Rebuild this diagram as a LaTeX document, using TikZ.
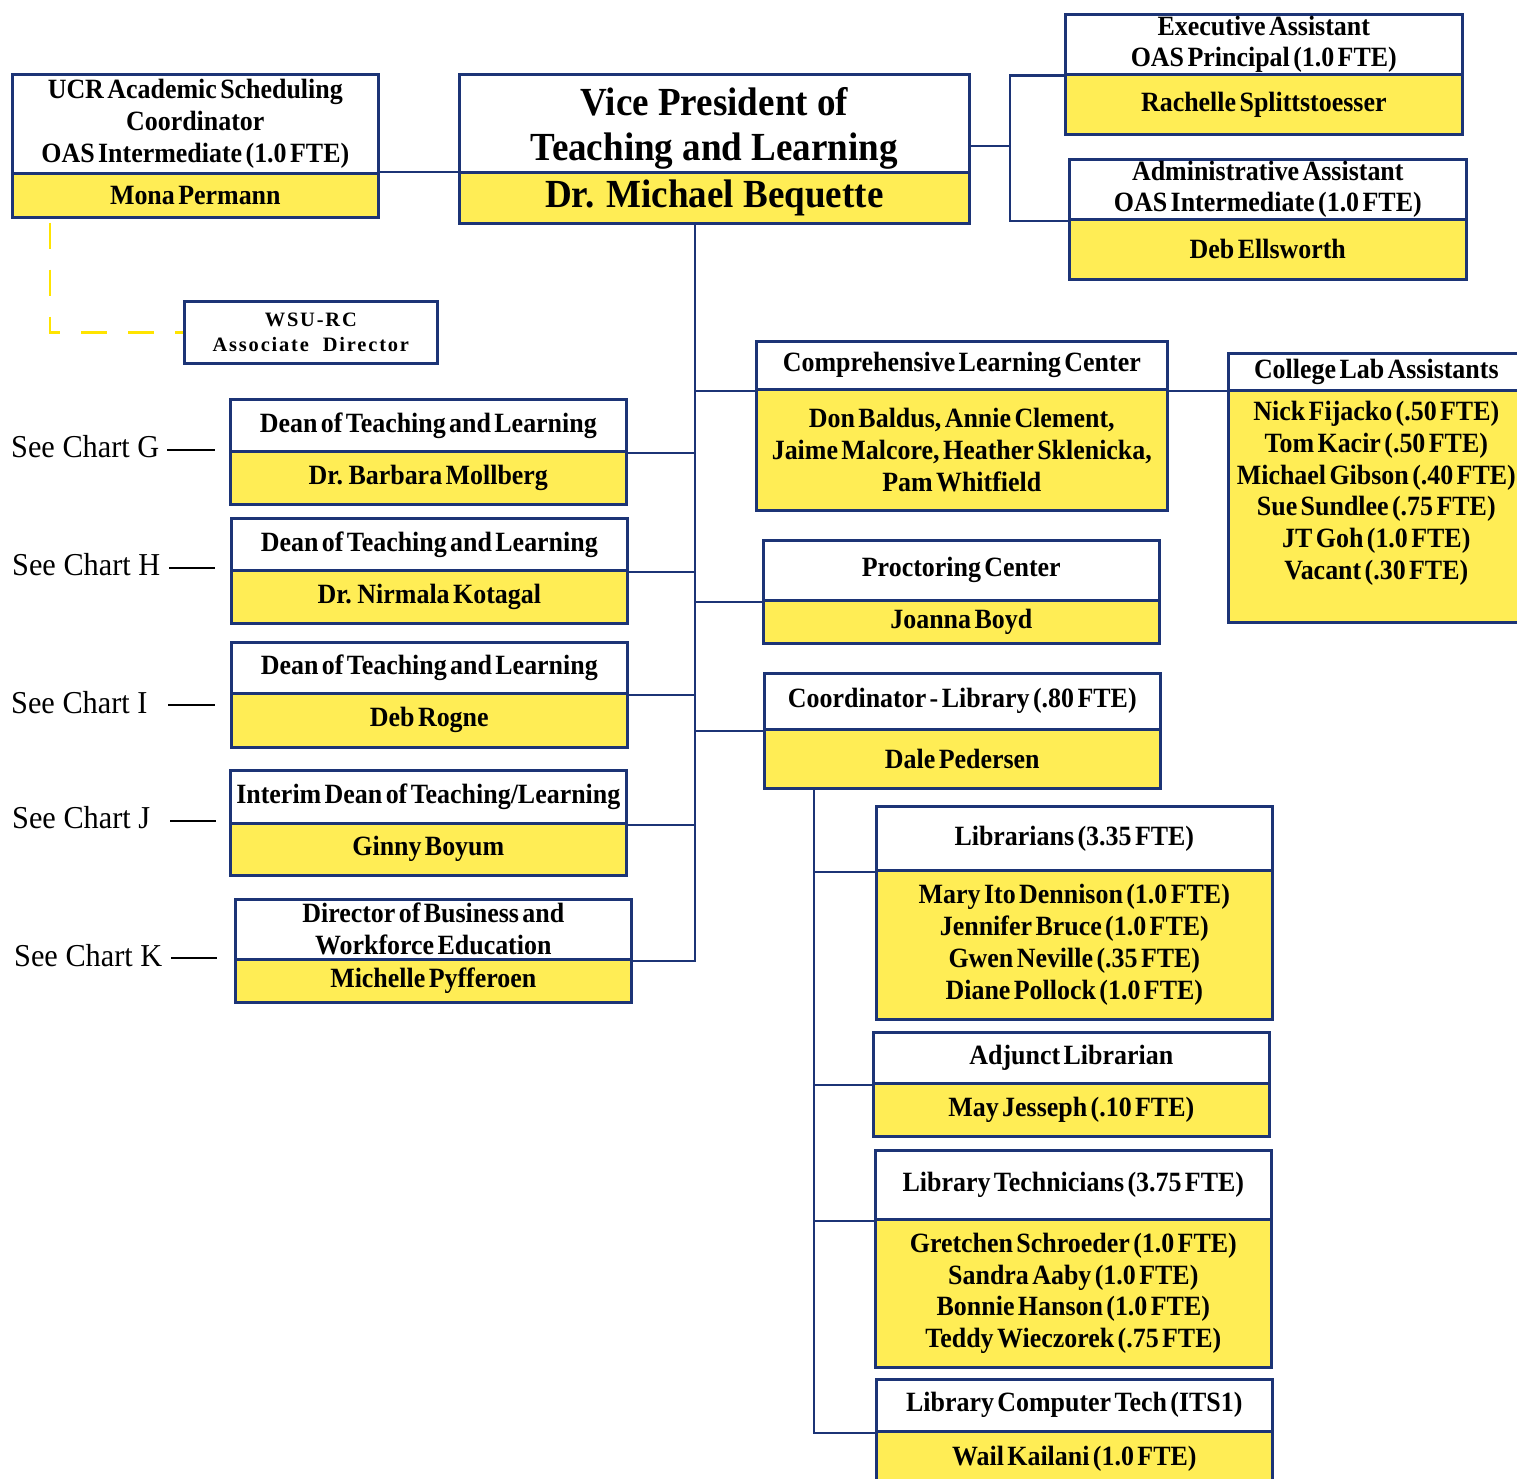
\documentclass[tikz,border=0pt]{standalone}
\usepackage{fontspec}
\setmainfont{Liberation Serif}
\newfontfamily\cnd[FakeStretch=0.93]{Liberation Serif}
\newfontfamily\cndr[FakeStretch=0.95]{Liberation Serif}
\newfontfamily\vpfam[FakeStretch=0.93]{Liberation Serif}
\newfontfamily\wsufam[LetterSpace=9]{Liberation Serif}
\definecolor{navy}{RGB}{28,52,118}
\definecolor{boxyellow}{RGB}{255,237,85}
\definecolor{dashyellow}{RGB}{255,228,0}
\newcommand\ttlfont{\cnd\bfseries\fontsize{28}{32}\selectfont\spaceskip=3.4bp plus 1bp minus 0.5bp\relax}
\newcommand\vpfont{\vpfam\bfseries\fontsize{40}{45}\selectfont}
\newcommand\seefont{\cndr\fontsize{32}{36}\selectfont}
\newcommand\wsufont{\wsufam\bfseries\fontsize{20.5}{26}\selectfont}
\newcommand\orgbox[9][]{%
  \node[hd,#1,minimum width={(#7)*1bp},minimum height={(#5-#4)*1bp}] (#2t) at (#3,#4) {#8};
  \node[nm,#1,minimum width={(#7)*1bp},minimum height={(#6-#5)*1bp}] (#2n) at (#3,#5) {#9};}
\tikzset{
  hd/.style={draw=navy,line width=2.6bp,fill=white,inner sep=0pt,anchor=north west,align=center,font=\ttlfont},
  nm/.style={hd,fill=boxyellow},
  big/.style={font=\vpfont},
  conn/.style={draw=navy,line width=2.2bp},
  seeln/.style={draw=black,line width=2.2bp},
  seelbl/.style={anchor=west,inner sep=0pt,font=\seefont},
  dashln/.style={draw=dashyellow,line width=2.6bp,dash pattern=on 26bp off 21bp},
  wsubox/.style={draw=navy,line width=2.6bp,fill=white,inner sep=0pt,anchor=north west,align=center,font=\wsufont}
}
\begin{document}
\begin{tikzpicture}[x=1bp,y=-1bp]
\useasboundingbox (0,0) rectangle (1517,1479);
% top row
\orgbox{ucr}{11}{73}{172}{216}{366}{UCR Academic Scheduling\\Coordinator\\OAS Intermediate (1.0 FTE)}{Mona Permann}
\orgbox[big]{vp}{458}{73}{171}{222}{510}{\rule{0pt}{38bp}Vice President of\\Teaching and Learning}{Dr. Michael Bequette}
\orgbox{ex}{1064}{13}{73}{133}{397}{Executive Assistant\\OAS Principal (1.0 FTE)}{Rachelle Splittstoesser}
\orgbox{ad}{1068}{158}{218}{278}{397}{Administrative Assistant\\OAS Intermediate (1.0 FTE)}{Deb Ellsworth}
\node[wsubox,minimum width=253bp,minimum height=62bp] (wsu) at (183,300) {WSU-RC\\Associate\ \ Director};
% right column
\orgbox{clc}{755}{340}{388}{509}{411}{Comprehensive Learning Center}{Don Baldus, Annie Clement,\\Jaime Malcore, Heather Sklenicka,\\Pam Whitfield}
\orgbox{cla}{1227}{352}{389}{621}{296}{College Lab Assistants}{Nick Fijacko (.50 FTE)\\Tom Kacir (.50 FTE)\\Michael Gibson (.40 FTE)\\Sue Sundlee (.75 FTE)\\JT Goh (1.0 FTE)\\Vacant (.30 FTE)\\~}
\orgbox{pr}{762}{539}{599}{642}{396}{Proctoring Center}{Joanna Boyd}
\orgbox{co}{763}{672}{728}{787}{396}{Coordinator - Library (.80 FTE)}{Dale Pedersen}
\orgbox{li}{875}{805}{869}{1018}{396}{Librarians (3.35 FTE)}{Mary Ito Dennison (1.0 FTE)\\Jennifer Bruce (1.0 FTE)\\Gwen Neville (.35 FTE)\\Diane Pollock (1.0 FTE)}
\orgbox{aj}{872}{1031}{1082}{1135}{396}{Adjunct Librarian}{May Jesseph (.10 FTE)}
\orgbox{lt}{874}{1149}{1218}{1366}{396}{Library Technicians (3.75 FTE)}{Gretchen Schroeder (1.0 FTE)\\Sandra Aaby (1.0 FTE)\\Bonnie Hanson (1.0 FTE)\\Teddy Wieczorek (.75 FTE)}
\orgbox{lc}{875}{1378}{1430}{1484}{396}{Library Computer Tech (ITS1)}{Wail Kailani (1.0 FTE)}
% left deans
\orgbox{dg}{229}{398}{450}{503}{396}{Dean of Teaching and Learning}{Dr. Barbara Mollberg}
\orgbox{dh}{230}{517}{569}{622}{396}{Dean of Teaching and Learning}{Dr. Nirmala Kotagal}
\orgbox{di}{230}{641}{692}{746}{396}{Dean of Teaching and Learning}{Deb Rogne}
\orgbox{dj}{229}{769}{822}{874}{396}{Interim Dean of Teaching/Learning}{Ginny Boyum}
\orgbox{dk}{234}{898}{958}{1001}{396}{Director of Business and\\Workforce Education}{Michelle Pyfferoen}
% see chart labels
\node[seelbl] (sg) at (11,447) {See Chart G};
\node[seelbl] (sh) at (12,565) {See Chart H};
\node[seelbl] (si) at (11,703) {See Chart I};
\node[seelbl] (sj) at (12,818) {See Chart J};
\node[seelbl] (sk) at (14,956) {See Chart K};
\coordinate (g1) at (167,450); \coordinate (g2) at (215,450);
\coordinate (h1) at (169,568); \coordinate (h2) at (215,568);
\coordinate (i1) at (168,705); \coordinate (i2) at (215,705);
\coordinate (j1) at (170,821); \coordinate (j2) at (216,821);
\coordinate (k1) at (171,958); \coordinate (k2) at (217,958);
\draw[seeln] (g1) -- (g2);
\draw[seeln] (h1) -- (h2);
\draw[seeln] (i1) -- (i2);
\draw[seeln] (j1) -- (j2);
\draw[seeln] (k1) -- (k2);
% connectors
\coordinate (trunkx) at (695,0);
\coordinate (asp) at (1010,146);
\coordinate (lsx) at (814,0);
\coordinate (dsx) at (50,0);
\draw[conn] (ucrn.north east) -- (ucrn.north east -| vpn.west);
\draw[conn] (vpt.east |- asp) -- (asp);
\draw[conn] (ext.south west) -| (asp) |- (adt.south west);
\draw[conn] (vpn.south -| trunkx) -- (dkt.south east -| trunkx) -- (dkt.south east);
\draw[conn] (clct.south west) -- (clct.south west -| trunkx);
\draw[conn] (prt.south west) -- (prt.south west -| trunkx);
\draw[conn] (cot.south west) -- (cot.south west -| trunkx);
\draw[conn] (dgt.south east) -- (dgt.south east -| trunkx);
\draw[conn] (dht.south east) -- (dht.south east -| trunkx);
\draw[conn] (dit.south east) -- (dit.south east -| trunkx);
\draw[conn] (djt.south east) -- (djt.south east -| trunkx);
\draw[conn] (clct.south east) -- (clct.south east -| clat.west);
\draw[conn] (con.south -| lsx) -- (lct.south west -| lsx) -- (lct.south west);
\draw[conn] (lit.south west) -- (lit.south west -| lsx);
\draw[conn] (ajt.south west) -- (ajt.south west -| lsx);
\draw[conn] (ltt.south west) -- (ltt.south west -| lsx);
\draw[dashln] ([yshift=-4bp]ucrn.south -| dsx) |- (wsu.west);
\end{tikzpicture}
\end{document}
